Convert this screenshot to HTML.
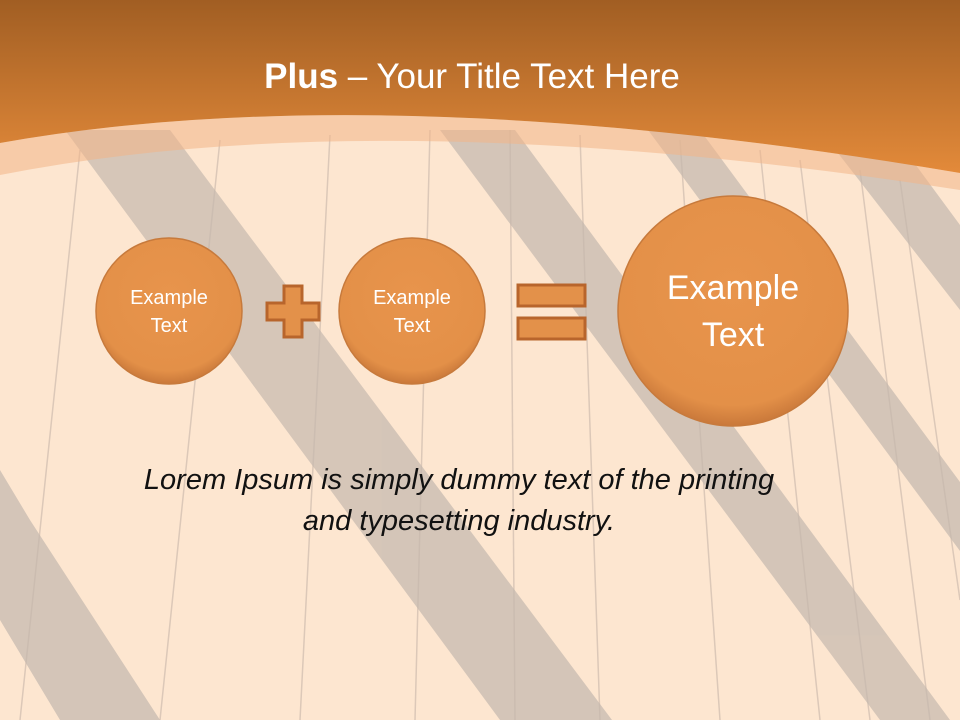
<!DOCTYPE html>
<html><head><meta charset="utf-8"><style>
body{margin:0;width:960px;height:720px;overflow:hidden;font-family:"Liberation Sans",sans-serif}
</style></head><body>
<svg width="960" height="720" viewBox="0 0 960 720" xmlns="http://www.w3.org/2000/svg">
<defs>
<linearGradient id="top" x1="0" y1="0" x2="0" y2="1">
<stop offset="0" stop-color="#a15e23"/><stop offset="1" stop-color="#e38a3a"/>
</linearGradient>
<radialGradient id="ball" cx="0.5" cy="0.4" r="0.6">
<stop offset="0" stop-color="#e8944c"/><stop offset="0.85" stop-color="#e39048"/><stop offset="1" stop-color="#c9783a"/>
</radialGradient>
</defs>
<rect width="960" height="720" fill="#fde6d0"/>
<g stroke="#dcc8b8" stroke-width="1.5" fill="none">
<line x1="80" y1="150" x2="20" y2="720"/><line x1="220" y1="140" x2="160" y2="720"/>
<line x1="330" y1="135" x2="300" y2="720"/><line x1="430" y1="130" x2="415" y2="720"/>
<line x1="510" y1="130" x2="515" y2="720"/><line x1="580" y1="135" x2="600" y2="720"/>
<line x1="680" y1="140" x2="720" y2="720"/><line x1="760" y1="150" x2="820" y2="720"/>
<line x1="800" y1="160" x2="870" y2="720"/><line x1="860" y1="170" x2="930" y2="720"/>
<line x1="900" y1="180" x2="960" y2="600"/>
</g>
<g fill="#c4b8ae" opacity="0.7">
<polygon points="65,130 170,130 612,720 500,720"/>
<polygon points="440,130 515,130 950,720 880,720"/>
<polygon points="648,130 700,130 960,482 960,551"/>
<polygon points="820,130 890,130 960,225 960,310"/>
<polygon points="0,470 30,520 160,720 60,720 0,620"/>
</g>
<path d="M0,175 Q380,100 960,190 L960,173 Q380,75 0,143 Z" fill="#f2b487" opacity="0.55"/>
<path d="M0,0 H960 V173 Q380,75 0,143 Z" fill="url(#top)"/>
<text x="472" y="88" text-anchor="middle" fill="#fff" font-size="35" font-family="Liberation Sans,sans-serif"><tspan font-weight="bold">Plus</tspan> – Your Title Text Here</text>
<g stroke="#c77a3c" stroke-width="1.5">
<circle cx="169" cy="311" r="73" fill="url(#ball)"/>
<circle cx="412" cy="311" r="73" fill="url(#ball)"/>
<circle cx="733" cy="311" r="115" fill="url(#ball)"/>
</g>
<path d="M284,286 h18 v17 h17 v17 h-17 v17 h-18 v-17 h-17 v-17 h17 Z" fill="#e3914a" stroke="#b8652c" stroke-width="3"/>
<rect x="518" y="285" width="67" height="21" fill="#e3914a" stroke="#b8652c" stroke-width="3"/>
<rect x="518" y="318" width="67" height="21" fill="#e3914a" stroke="#b8652c" stroke-width="3"/>
<g fill="#fff" text-anchor="middle" font-size="20">
<text x="169" y="304">Example</text><text x="169" y="332">Text</text>
<text x="412" y="304">Example</text><text x="412" y="332">Text</text>
<text x="733" y="299" font-size="34">Example</text><text x="733" y="346" font-size="34">Text</text>
</g>
<g fill="#111" text-anchor="middle" font-size="29" font-style="italic">
<text x="459" y="489">Lorem Ipsum is simply dummy text of the printing</text>
<text x="459" y="530">and typesetting industry.</text>
</g>
</svg>
</body></html>
